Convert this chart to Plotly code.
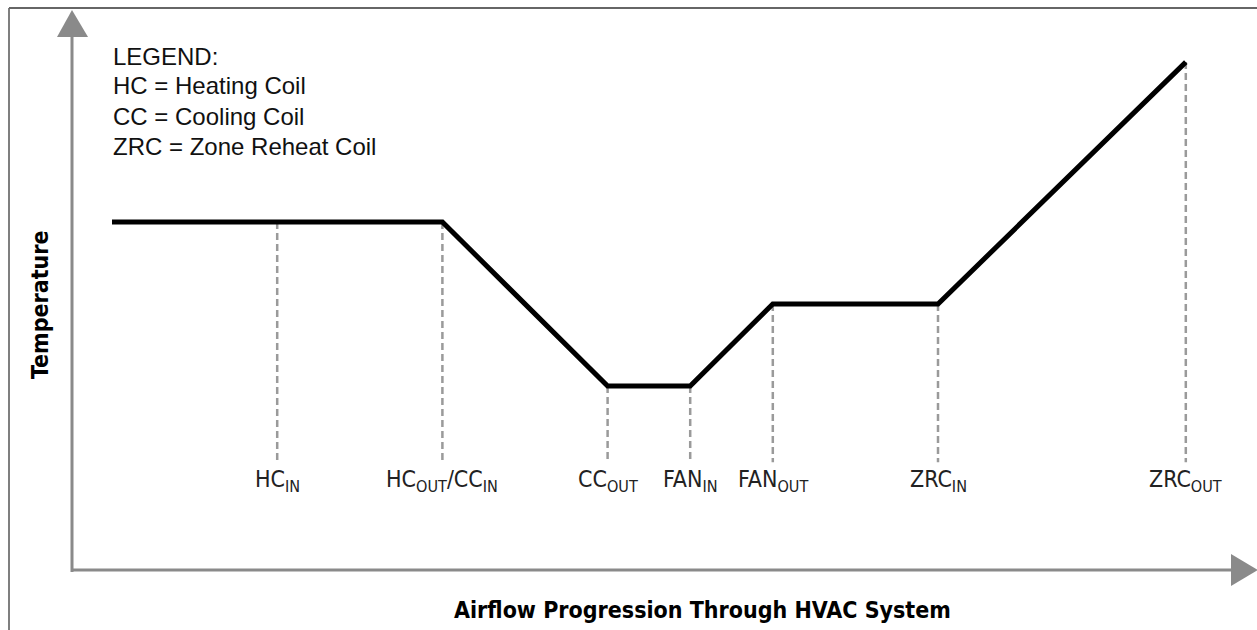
import plotly.graph_objects as go

# ---- data ----
stage_labels = ["HC<sub>IN</sub>", "HC<sub>OUT</sub>/CC<sub>IN</sub>", "CC<sub>OUT</sub>",
                "FAN<sub>IN</sub>", "FAN<sub>OUT</sub>", "ZRC<sub>IN</sub>", "ZRC<sub>OUT</sub>"]
stage_pos = [2, 4, 6, 7, 8, 10, 13]
stage_temp = [4, 4, 2, 2, 3, 3, 5.95]
line_pos = [0, 2, 4, 6, 7, 8, 10, 13]
line_temp = [4, 4, 4, 2, 2, 3, 3, 5.95]
legend_lines = ["LEGEND:", "HC = Heating Coil", "CC = Cooling Coil", "ZRC = Zone Reheat Coil"]

W, H = 1257, 630
DASH_BASE = 1.07
LABEL_Y = 0.84
COND = "DejaVu Sans Condensed, Liberation Sans Narrow, sans-serif"

def px(x, y):
    return x / W, 1 - y / H

fig = go.Figure()

for xp, tp in zip(stage_pos, stage_temp):
    fig.add_trace(go.Scatter(x=[xp, xp], y=[tp, DASH_BASE], mode="lines",
                             line=dict(color="#9a9a9a", width=2.5, dash="7px,4px"),
                             hoverinfo="skip", showlegend=False))

fig.add_trace(go.Scatter(x=line_pos, y=line_temp, mode="lines",
                         line=dict(color="#000000", width=5), showlegend=False))

ann = []
for xp, lab in zip(stage_pos, stage_labels):
    ann.append(dict(x=xp, y=LABEL_Y, xref="x", yref="y", text=lab, showarrow=False,
                    xanchor="center", yanchor="middle",
                    font=dict(family=COND, size=23, color="#222")))

for i, t in enumerate(legend_lines):
    x0, y0 = px(111, 56 + 30 * i)
    ann.append(dict(x=x0, y=y0, xref="paper", yref="paper", text=t, showarrow=False,
                    xanchor="left", yanchor="middle",
                    font=dict(family="Liberation Sans, Arial, sans-serif", size=24, color="#111")))

x0, y0 = px(703, 610)
ann.append(dict(x=x0, y=y0, xref="paper", yref="paper", text="<b>Airflow Progression Through HVAC System</b>",
                showarrow=False, xanchor="center", yanchor="middle",
                font=dict(family=COND, size=23, color="#000")))
x0, y0 = px(40, 305)
ann.append(dict(x=x0, y=y0, xref="paper", yref="paper", text="<b>Temperature</b>", textangle=-90,
                showarrow=False, xanchor="center", yanchor="middle",
                font=dict(family=COND, size=23, color="#000")))

shapes = []
gray = "#8a8a8a"
# border
a = px(9, 8); b = px(9, 640); c = px(1260, 8)
shapes.append(dict(type="line", xref="paper", yref="paper", x0=a[0], y0=a[1], x1=b[0], y1=b[1],
                   line=dict(color="#555", width=1.5)))
shapes.append(dict(type="line", xref="paper", yref="paper", x0=a[0], y0=a[1], x1=c[0], y1=c[1],
                   line=dict(color="#666", width=2)))
# y axis
p1 = px(72, 572); p2 = px(72, 30)
shapes.append(dict(type="line", xref="paper", yref="paper", x0=p1[0], y0=p1[1], x1=p2[0], y1=p2[1],
                   line=dict(color=gray, width=3)))
t1 = px(72, 10); t2 = px(57, 37); t3 = px(88, 37)
shapes.append(dict(type="path", xref="paper", yref="paper",
                   path=f"M {t1[0]} {t1[1]} L {t2[0]} {t2[1]} L {t3[0]} {t3[1]} Z",
                   fillcolor=gray, line=dict(width=0)))
# x axis
p1 = px(71, 570); p2 = px(1240, 570)
shapes.append(dict(type="line", xref="paper", yref="paper", x0=p1[0], y0=p1[1], x1=p2[0], y1=p2[1],
                   line=dict(color=gray, width=3)))
t1 = px(1258, 570); t2 = px(1231, 554); t3 = px(1231, 586)
shapes.append(dict(type="path", xref="paper", yref="paper",
                   path=f"M {t1[0]} {t1[1]} L {t2[0]} {t2[1]} L {t3[0]} {t3[1]} Z",
                   fillcolor=gray, line=dict(width=0)))

fig.update_layout(
    width=W, height=H, margin=dict(l=0, r=0, t=0, b=0),
    paper_bgcolor="white", plot_bgcolor="white",
    xaxis=dict(range=[-112 / 82.6, (W - 112) / 82.6], visible=False, fixedrange=True),
    yaxis=dict(range=[2 - (H - 386) / 82, 2 + 386 / 82], visible=False, fixedrange=True),
    annotations=ann, shapes=shapes,
)

fig.write_html("out.html", config={"displayModeBar": False},
               post_script="document.body.style.margin='0';document.body.style.overflow='hidden';")
